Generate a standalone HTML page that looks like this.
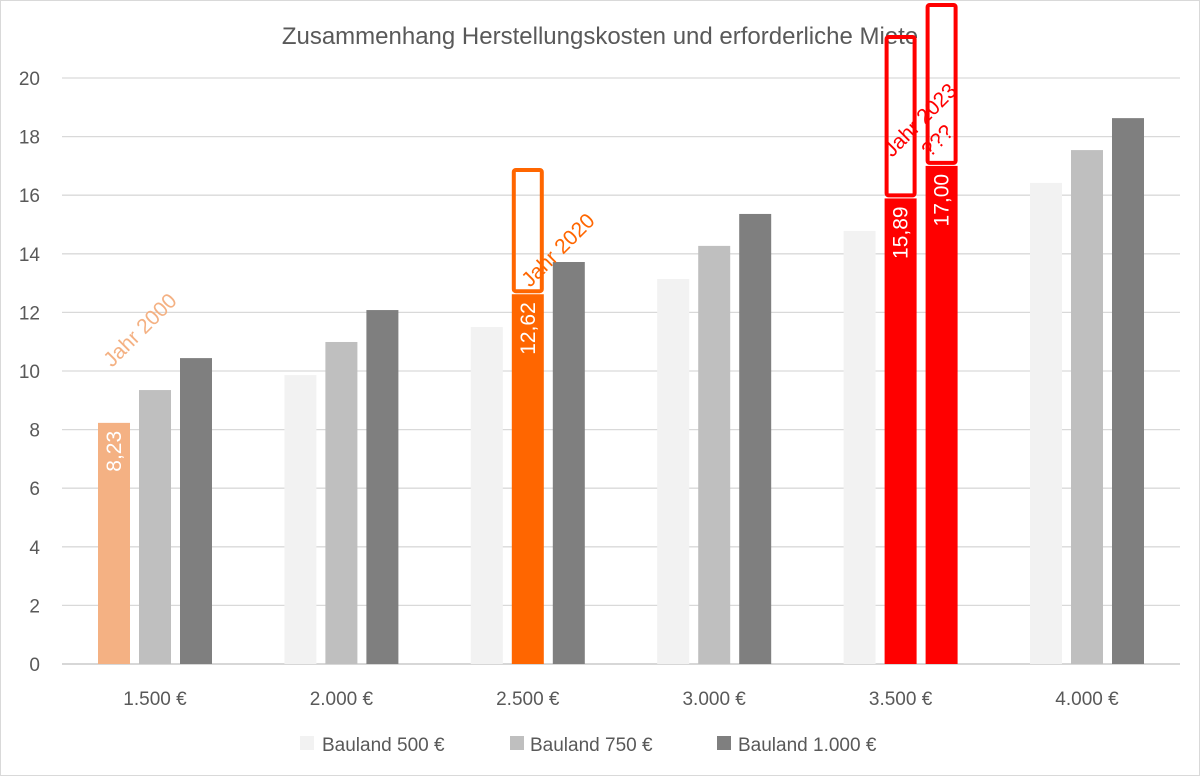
<!DOCTYPE html>
<html><head><meta charset="utf-8"><style>
body{margin:0;background:#fff;}
svg{display:block;font-family:"Liberation Sans",sans-serif;}
</style></head><body>
<svg id="c" width="1200" height="776">
<rect x="0.5" y="0.5" width="1199" height="775" fill="#fff" stroke="#d9d9d9"/>
<text x="600" y="44" text-anchor="middle" font-size="24" fill="#595959">Zusammenhang Herstellungskosten und erforderliche Miete</text>
<g id="grid"></g><g id="bars"></g><g id="ann"></g>
<g font-size="19" fill="#595959">
<rect x="300" y="736" width="14" height="14" fill="#f2f2f2"/>
<text x="322" y="751">Bauland 500 €</text>
<rect x="510" y="736" width="14" height="14" fill="#bfbfbf"/>
<text x="530" y="751">Bauland 750 €</text>
<rect x="717" y="736" width="14" height="14" fill="#7f7f7f"/>
<text x="738" y="751">Bauland 1.000 €</text>
</g>
</svg>
<script>
const categories=["1.500 €","2.000 €","2.500 €","3.000 €","3.500 €","4.000 €"];
const bauland500=[8.23,9.86,11.5,13.14,14.78,16.42];
const bauland750=[9.35,10.99,12.62,14.27,15.89,17.54];
const bauland1000=[10.44,12.08,13.72,15.36,17.00,18.63];
const yTicks=[0,2,4,6,8,10,12,14,16,18,20];
const NS="http://www.w3.org/2000/svg";
const y=v=>664-v*29.3;
const cx=i=>155+i*186.4;
function mk(tag,attrs,parent,text){const e=document.createElementNS(NS,tag);for(const k in attrs)e.setAttribute(k,attrs[k]);if(text!==undefined)e.textContent=text;parent.appendChild(e);return e;}
const grid=document.getElementById('grid'),bars=document.getElementById('bars'),ann=document.getElementById('ann');
yTicks.forEach(t=>{
 const l=mk('line',{x1:62,x2:1180,y1:y(t),y2:y(t),stroke:t===0?'#bfbfbf':'#d9d9d9','stroke-width':1.3},grid);
 
 
 const tx=mk('text',{x:40,y:y(t)+7,'text-anchor':'end','font-size':19,fill:'#595959'},grid,String(t));
 
 
});
categories.forEach((c,i)=>{
 const tx=mk('text',{x:cx(i),y:705,'text-anchor':'middle','font-size':19,fill:'#595959'},grid,c);
 
 
});
const series=[bauland500,bauland750,bauland1000],cols=['#f2f2f2','#bfbfbf','#7f7f7f'],offs=[-57,-16,25];
const hi={"0-0":'#f4b183',"2-1":'#ff6600',"4-1":'#ff0000',"4-2":'#ff0000'};
series.forEach((s,si)=>s.forEach((v,i)=>{
 const x=cx(i)+offs[si],col=hi[i+'-'+si]||cols[si];
 const r=mk('rect',{x:x,y:y(v),width:32,height:y(0)-y(v),fill:col},bars);
 
 
 if(hi[i+'-'+si]){
  const lbl=v.toFixed(2).replace('.',',');
  const t=mk('text',{transform:`translate(${x+23},${y(v)+8}) rotate(-90)`,'text-anchor':'end','font-size':21,fill:'#fff'},bars,lbl);
  
  
 }
}));
function box(x,top,bottom,col,name){const r=mk('rect',{x:x,y:top,width:28,height:bottom-top,fill:'none',stroke:col,'stroke-width':4,rx:2},ann);
 
 }
box(cx(2)-14,170,y(bauland750[2])-3,'#ff6600','outline-2020');
box(cx(4)-14,37,y(bauland750[4])-3,'#ff0000','outline-2023-a');
box(cx(4)+27,5,y(bauland1000[4])-3,'#ff0000','outline-2023-b');
function rt(x,yy,txt,col,name){const t=mk('text',{transform:`translate(${x},${yy}) rotate(-45)`,'font-size':21,fill:col},ann,txt);
 
 }
rt(112,368,'Jahr 2000','#f4b183','annotation-2000');
rt(530,288,'Jahr 2020','#ff6600','annotation-2020');
rt(892,158,'Jahr 2023','#ff0000','annotation-2023');
rt(930,158,'???','#ff0000','annotation-question');
</script>
</body></html>
